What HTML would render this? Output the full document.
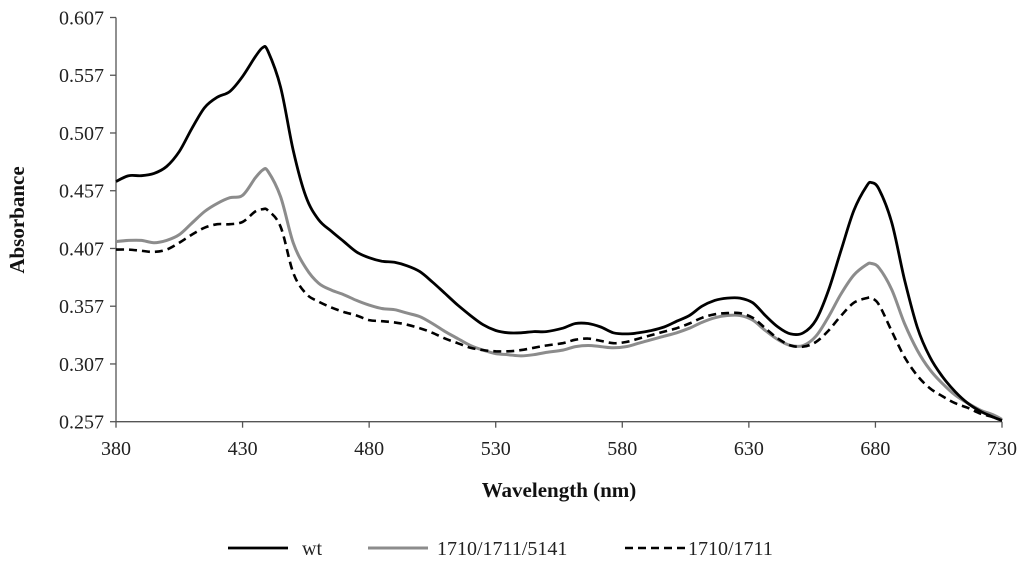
<!DOCTYPE html>
<html><head><meta charset="utf-8"><style>
body{margin:0;background:#fff}
svg text{font-family:"Liberation Serif",serif}
</style></head><body>
<svg id="c" width="1024" height="562" viewBox="0 0 1024 562" xmlns="http://www.w3.org/2000/svg"></svg>
<script>
const wavelengths=[380,385,390,395,400,405,410,415,420,425,430,435,438,440,445,450,455,460,465,470,475,480,485,490,495,500,505,510,515,520,525,530,535,540,545,550,
556.5,561.5,566.5,571.5,576.5,581.5,586.5,591.5,596.5,601.5,606.5,611.5,616.5,621.5,626.5,631.5,636.5,641.5,646.5,651.5,656.5,661.5,666.5,671.5,676.5,678.5,681.5,686.5,691.5,696.5,701.5,706.5,711.5,716.5,721.5,726.5,730];
const wtValues=[0.465,0.470,0.470,0.472,0.478,0.491,0.511,0.529,0.538,0.543,0.556,0.573,0.581,0.578,0.547,0.492,0.452,0.432,0.422,0.413,0.404,0.399,0.396,0.395,0.392,0.387,0.378,0.368,0.358,0.349,0.341,0.336,0.334,0.334,0.335,0.335,
0.338,0.342,0.342,0.339,0.334,0.333,0.334,0.336,0.339,0.344,0.349,0.357,0.362,0.364,0.364,0.360,0.349,0.339,0.333,0.334,0.345,0.371,0.406,0.440,0.461,0.464,0.458,0.429,0.380,0.339,0.313,0.296,0.283,0.273,0.266,0.261,0.258];
const tripleValues=[0.413,0.414,0.414,0.412,0.414,0.419,0.429,0.439,0.446,0.451,0.453,0.468,0.475,0.474,0.452,0.412,0.390,0.377,0.371,0.367,0.362,0.358,0.355,0.354,0.351,0.348,0.342,0.335,0.329,0.323,0.319,0.316,0.315,0.314,0.315,0.317,
0.319,0.322,0.323,0.322,0.321,0.322,0.325,0.328,0.331,0.334,0.338,0.343,0.347,0.349,0.349,0.345,0.336,0.328,0.323,0.323,0.331,0.348,0.368,0.384,0.393,0.394,0.390,0.371,0.342,0.319,0.302,0.290,0.280,0.273,0.267,0.263,0.259];
const doubleValues=[0.406,0.406,0.405,0.404,0.406,0.412,0.419,0.425,0.428,0.428,0.430,0.439,0.441,0.440,0.426,0.386,0.368,0.361,0.356,0.352,0.349,0.345,0.344,0.343,0.341,0.338,0.334,0.329,0.325,0.321,0.319,0.318,0.318,0.319,0.321,0.323,
0.325,0.328,0.329,0.327,0.325,0.326,0.329,0.332,0.335,0.338,0.342,0.347,0.350,0.351,0.351,0.347,0.338,0.329,0.323,0.322,0.326,0.336,0.349,0.360,0.364,0.364,0.358,0.335,0.313,0.297,0.286,0.279,0.273,0.269,0.264,0.261,0.258];
const xTicks=[380,430,480,530,580,630,680,730];
const yTicks=[0.257,0.307,0.357,0.407,0.457,0.507,0.557,0.607];

const NS="http://www.w3.org/2000/svg";
const svg=document.getElementById('c');
const X0=116,X1=1002,Y0=421.7,Y1=17.5;
const xs=v=>X0+(v-380)/(730-380)*(X1-X0);
const ys=v=>Y0-(v-0.257)/(0.607-0.257)*(Y0-Y1);
function mk(tag,attrs,parent){const e=document.createElementNS(NS,tag);for(const k in attrs)e.setAttribute(k,attrs[k]);(parent||svg).appendChild(e);return e;}

// axes
let ax=mk('line',{x1:X0,y1:Y1,x2:X0,y2:Y0,stroke:'#555','stroke-width':1.3});


ax=mk('line',{x1:X0,y1:Y0,x2:X1,y2:Y0,stroke:'#555','stroke-width':1.3});


yTicks.forEach(t=>{
  const y=ys(t);
  const tk=mk('line',{x1:X0-6,y1:y,x2:X0,y2:y,stroke:'#555','stroke-width':1.3});
  
  
  const tx=mk('text',{x:X0-12,y:y+7,'text-anchor':'end','font-size':20,fill:'#222'});
  tx.textContent=t.toFixed(3);
  
  
});
xTicks.forEach(t=>{
  const x=xs(t);
  const tk=mk('line',{x1:x,y1:Y0,x2:x,y2:Y0+6,stroke:'#555','stroke-width':1.3});
  
  
  const tx=mk('text',{x:x,y:455,'text-anchor':'middle','font-size':20,fill:'#222'});
  tx.textContent=t;
  
  
});
let tt=mk('text',{x:559,y:497,'text-anchor':'middle','font-size':21,'font-weight':'bold',fill:'#111'});
tt.textContent='Wavelength (nm)';


tt=mk('text',{x:0,y:0,'text-anchor':'middle','font-size':21,'font-weight':'bold',fill:'#111',transform:'translate(24,220) rotate(-90)'});
tt.textContent='Absorbance';



function pathFor(vals){
  const p=wavelengths.map((w,i)=>[xs(w),ys(vals[i])]);
  let d='M'+p[0][0].toFixed(1)+','+p[0][1].toFixed(1);
  for(let i=0;i<p.length-1;i++){
    const a=p[i-1]||p[i],b=p[i],c=p[i+1],e=p[i+2]||c;
    const c1=[b[0]+(c[0]-a[0])/6,b[1]+(c[1]-a[1])/6],c2=[c[0]-(e[0]-b[0])/6,c[1]-(e[1]-b[1])/6];
    d+=` C${c1[0].toFixed(1)},${c1[1].toFixed(1)} ${c2[0].toFixed(1)},${c2[1].toFixed(1)} ${c[0].toFixed(1)},${c[1].toFixed(1)}`;
  }
  return d;
}
let s=mk('path',{d:pathFor(tripleValues),fill:'none',stroke:'#8c8c8c','stroke-width':3});


s=mk('path',{d:pathFor(doubleValues),fill:'none',stroke:'#000','stroke-width':2.6,'stroke-dasharray':'8,5'});


s=mk('path',{d:pathFor(wtValues),fill:'none',stroke:'#000','stroke-width':2.8});



// legend
const lg=mk('g',{});


const entries=[['wt',228,288,302,'#000',2.8,''],['1710/1711/5141',368,428,437,'#8c8c8c',3,''],['1710/1711',625,685,688,'#000',2.6,'8,5']];
entries.forEach(e=>{
  const g=mk('g',{},lg);
  
  
  const l=mk('line',{x1:e[1],y1:548,x2:e[2],y2:548,stroke:e[4],'stroke-width':e[5]},g);
  if(e[6])l.setAttribute('stroke-dasharray',e[6]);
  const t=mk('text',{x:e[3],y:555,'font-size':20,fill:'#222'},g);
  t.textContent=e[0];
});
</script>
</body></html>
